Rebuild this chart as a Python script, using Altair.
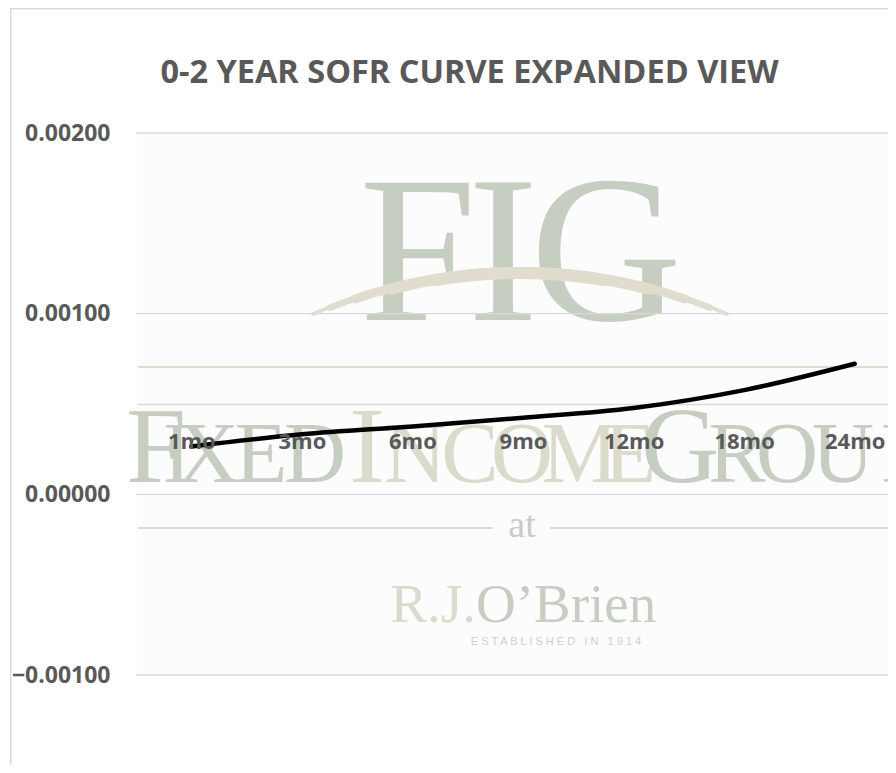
import math
import altair as alt
import pandas as pd

# ---- chart data ----
tenors = ["1mo", "3mo", "6mo", "9mo", "12mo", "18mo", "24mo"]
sofr = [0.000265, 0.000332, 0.000376, 0.000424, 0.000478, 0.000577, 0.000723]
y_ticks = [-0.001, 0.0, 0.001, 0.002]
title_text = "0-2 YEAR SOFR CURVE EXPANDED VIEW"

# ---- watermark (logo) texts ----
logo_big = ["F", "I", "G"]
logo_word_chars = ["F", "I", "X", "E", "D", "I", "N", "C", "O", "M", "E", "G", "R", "O", "U", "P"]
logo_word_big = [True, False, False, False, False, True, False, False, False, False, False, True, False, False, False, False]
logo_word_tone = ["g", "g", "g", "g", "g", "t", "t", "t", "t", "t", "t", "g", "g", "g", "g", "g"]

LABEL = "#595959"
GRID = "#d9d9d9"
GREEN = "#c5cec1"
TAN = "#dcdacb"
FONT = "Open Sans"
SERIF = "Liberation Serif"
NB = "\u00a0"
PLOT_W = 752
PLOT_H = 542

df = pd.DataFrame({"tenor": tenors, "rate": sofr})
grid_df = pd.DataFrame({"rate": y_ticks})
one = alt.Data(values=[{}])


def txt(t, x, y, size, color, font=SERIF, align="center", weight="normal"):
    return alt.Chart(one).mark_text(
        text=t, font=font, fontSize=size, color=color, align=align,
        baseline="alphabetic", fontWeight=weight
    ).encode(x=alt.value(x), y=alt.value(y))


def hrule(x1, x2, y, color, w):
    return alt.Chart(one).mark_rule(color=color, strokeWidth=w).encode(
        x=alt.value(x1), x2=alt.value(x2), y=alt.value(y))


def vrule(x, y1, y2, color, w):
    return alt.Chart(one).mark_rule(color=color, strokeWidth=w).encode(
        x=alt.value(x), y=alt.value(y1), y2=alt.value(y2))


def arc(a, r0, r1, color):
    return alt.Chart(one).mark_arc(
        theta=2 * math.pi - a, theta2=2 * math.pi + a,
        innerRadius=r0, outerRadius=r1, color=color, cornerRadius=(r1 - r0) / 2
    ).encode(x=alt.value(384), y=alt.value(646))


y_enc = alt.Y(
    "rate:Q",
    scale=alt.Scale(domain=[-0.001, 0.002], nice=False, zero=False),
    axis=alt.Axis(
        values=y_ticks, format=".5f", domain=False, ticks=False, grid=False,
        labelFont=FONT, labelFontSize=23, labelFontWeight="bold",
        labelColor=LABEL, labelPadding=26, title=None, zindex=1
    ),
)

layers = []
# chart-area frame
layers.append(vrule(-125.3, -125, 700, GRID, 1.5))
layers.append(hrule(-125.3, 820, -124.3, GRID, 1.5))

# logo: FIG
for ch, cx in zip(logo_big, [282, 367, 470]):
    layers.append(txt(ch, cx, 187, 210, GREEN))
# swoosh (tapered crescent)
SW = "#e0ddcf"
for a, r0, r1 in [(0.4226, 507, 511), (0.39, 505, 511.5), (0.34, 503, 512),
                  (0.27, 501, 512), (0.18, 500, 512)]:
    layers.append(arc(a, r0, r1, SW))
# decorative rules of the logo
layers.append(hrule(2, 800, 234, "#dedbcf", 2.2))
layers.append(hrule(2, 800, 271.5, "#dcdcd6", 1.5))
layers.append(hrule(2, 357, 395, "#dfddd2", 2))
layers.append(hrule(414, 800, 395, "#dfddd2", 2))

# FIXEDINCOMEGROUP
word_x = [156, 177, 208, 261, 315, 367, 415, 470, 522, 580, 630, 680, 737, 787, 843, 905]
for ch, big, tone, cx in zip(logo_word_chars, logo_word_big, logo_word_tone, word_x):
    layers.append(txt(ch, cx - 136, 349, 108 if big else 86, GREEN if tone == "g" else TAN))

# at / R.J.O'Brien / established
layers.append(txt("at", 386, 404, 38, "#c6cdc3"))
layers.append(txt("R.J.", 340, 489, 55, "#dcdacd", align="right"))
layers.append(txt("O\u2019Brien", 340, 489, 55, "#c6cec4", align="left"))
est = (NB * 3).join([" ".join("ESTABLISHED"), " ".join("IN"), " ".join("1914")])
layers.append(txt(est, 420, 512, 11, "#cdd1ca", font="Liberation Sans"))

# title
layers.append(txt(title_text, 333.5, -50, 32.5, LABEL, font=FONT, weight="bold"))

# horizontal gridlines (full plot width)
grid = alt.Chart(grid_df).mark_rule(color=GRID, strokeWidth=1.3).encode(
    x=alt.value(0), x2=alt.value(PLOT_W), y=y_enc
)
layers.append(grid)

# data line
line = alt.Chart(df).mark_line(
    color="black", strokeWidth=4.5, interpolate="monotone", strokeCap="round"
).encode(
    x=alt.X(
        "tenor:N", sort=tenors,
        scale=alt.Scale(type="point", range=[55.3, 718.7], padding=0),
        axis=alt.Axis(
            offset=-234, domain=False, ticks=False, grid=False, labelPadding=0,
            labelBaseline="middle", labelAngle=0, labelFont=FONT, labelFontSize=22,
            labelFontWeight="bold", labelColor=LABEL, labelOverlap=False,
            labelFlush=False, title=None, zindex=1
        ),
    ),
    y=y_enc,
)
layers.append(line)

chart = alt.layer(*layers).properties(
    width=PLOT_W,
    height=PLOT_H,
    autosize=alt.AutoSizeParams(type="none"),
    padding={"left": 128, "top": 125, "right": 0, "bottom": 90},
    background="white",
).configure_view(fill="#fcfcfc", stroke="transparent")

chart.save("out.html", embed_options={"renderer": "svg", "actions": False})
